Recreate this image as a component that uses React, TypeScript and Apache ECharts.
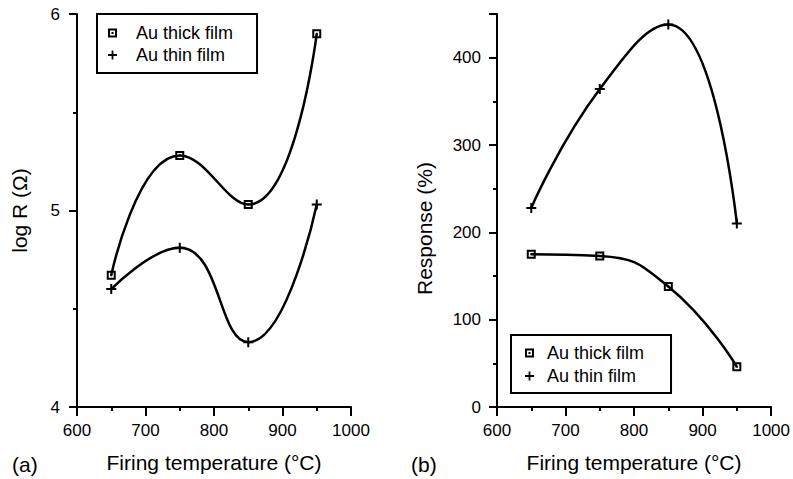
import React, { useEffect, useRef } from "react";
import * as echarts from "echarts";

const temps = [650, 750, 850, 950];
const thickLogR = [4.67, 5.28, 5.03, 5.9];
const thinLogR = [4.6, 4.81, 4.33, 5.03];
const thickResponse = [175, 173, 138, 46];
const thinResponse = [228, 364, 438, 210];
const seriesNames = ["Au thick film", "Au thin film"];
const panelLabels = ["(a)", "(b)"];

const FONT = "'Liberation Sans', Arial, Helvetica, sans-serif";
const squareIcon = "path://M0,0H9V9H0Z M2,2V7H7V2Z M3.5,3.5H5.5V5.5H3.5Z";
const plusIcon = "path://M4,0H6V4H10V6H6V10H4V6H0V4H4Z";

function pairs(xs: number[], ys: number[]) {
  return xs.map((x, i) => [x, ys[i]]);
}

export default function App() {
  const ref = useRef<HTMLDivElement>(null);
  useEffect(() => {
    if (!ref.current) return;
    const chart = echarts.init(ref.current, undefined, { renderer: "svg" });
    const axisLine = () => ({ show: true, onZero: false, lineStyle: { color: "#000", width: 2 } });
    const tick = (length: number) => ({ show: true, inside: false, length, lineStyle: { color: "#000", width: 2 } });
    const minor = () => ({ show: true, splitNumber: 2, length: 4, lineStyle: { color: "#000", width: 2 } });
    const xAxisBase = (gridIndex: number) => ({
      type: "value",
      gridIndex,
      min: 600,
      max: 1000,
      interval: 100,
      name: "Firing temperature (°C)",
      nameLocation: "middle",
      nameGap: 45,
      nameTextStyle: { fontFamily: FONT, fontSize: 21, color: "#000" },
      axisLine: axisLine(),
      axisTick: tick(9),
      minorTick: minor(),
      axisLabel: {
        fontFamily: FONT,
        fontSize: 17,
        color: "#000",
        margin: 15,
        formatter: (v: number) => String(v),
      },
      splitLine: { show: false },
      minorSplitLine: { show: false },
    });
    const lineSeries = (name: string, symbol: string, data: number[][], idx: number) => ({
      type: "line",
      name,
      xAxisIndex: idx,
      yAxisIndex: idx,
      data,
      smooth: 0.5,
      symbol,
      symbolSize: name === seriesNames[0] ? 9 : 10,
      showSymbol: true,
      lineStyle: { color: "#000", width: 2.5 },
      itemStyle: { color: "#000" },
      z: 3,
    });
    const option = {
      animation: false,
      backgroundColor: "#fff",
      textStyle: { fontFamily: FONT },
      grid: [
        { left: 77, right: 442, top: 14, bottom: 72, containLabel: false },
        { left: 497, right: 21, top: 14, bottom: 72, containLabel: false },
      ],
      xAxis: [xAxisBase(0), xAxisBase(1)],
      yAxis: [
        {
          type: "value",
          gridIndex: 0,
          min: 4,
          max: 6,
          interval: 1,
          name: "log R (Ω)",
          nameLocation: "middle",
          nameGap: 47,
          nameTextStyle: { fontFamily: FONT, fontSize: 21, color: "#000" },
          axisLine: axisLine(),
          axisTick: tick(8),
          minorTick: minor(),
          axisLabel: { fontFamily: FONT, fontSize: 17, color: "#000", margin: 17 },
          splitLine: { show: false },
        },
        {
          type: "value",
          gridIndex: 1,
          min: 0,
          max: 450,
          interval: 100,
          name: "Response (%)",
          nameLocation: "middle",
          nameGap: 62,
          nameTextStyle: { fontFamily: FONT, fontSize: 21, color: "#000", padding: [0, 36, 0, 0] },
          axisLine: axisLine(),
          axisTick: tick(8),
          minorTick: minor(),
          axisLabel: {
            fontFamily: FONT,
            fontSize: 17,
            color: "#000",
            margin: 16,
            showMaxLabel: false,
            formatter: (v: number) => (v % 100 === 0 ? String(v) : ""),
          },
          splitLine: { show: false },
        },
      ],
      legend: [
        {
          left: 97,
          top: 14,
          orient: "vertical",
          padding: [10, 24, 9, 11],
          itemGap: 4,
          itemWidth: 9,
          itemHeight: 9,
          borderColor: "#000",
          borderWidth: 2,
          backgroundColor: "#fff",
          textStyle: { fontFamily: FONT, fontSize: 18, color: "#000", padding: [0, 0, 0, 14] },
          data: [
            { name: seriesNames[0], icon: squareIcon },
            { name: seriesNames[1], icon: plusIcon },
          ],
          selectedMode: false,
        },
        {
          left: 511,
          top: 335,
          orient: "vertical",
          padding: [9, 27, 8, 14],
          itemGap: 5,
          itemWidth: 9,
          itemHeight: 9,
          borderColor: "#000",
          borderWidth: 2,
          backgroundColor: "#fff",
          textStyle: { fontFamily: FONT, fontSize: 18, color: "#000", padding: [0, 0, 0, 8] },
          data: [
            { name: seriesNames[0], icon: squareIcon },
            { name: seriesNames[1], icon: plusIcon },
          ],
          selectedMode: false,
        },
      ],
      graphic: [
        {
          type: "text",
          left: 12,
          top: 454,
          style: { text: panelLabels[0], font: `21px ${FONT}`, fill: "#000" },
        },
        {
          type: "text",
          left: 411,
          top: 454,
          style: { text: panelLabels[1], font: `21px ${FONT}`, fill: "#000" },
        },
      ],
      series: [
        lineSeries(seriesNames[0], squareIcon, pairs(temps, thickLogR), 0),
        lineSeries(seriesNames[1], plusIcon, pairs(temps, thinLogR), 0),
        lineSeries(seriesNames[0], squareIcon, pairs(temps, thickResponse), 1),
        lineSeries(seriesNames[1], plusIcon, pairs(temps, thinResponse), 1),
      ],
    };
    chart.setOption(option as any);
    return () => chart.dispose();
  }, []);
  return (
    <div
      ref={ref}
      style={{ position: "fixed", left: 0, top: 0, width: 793, height: 479, background: "#fff" }}
    />
  );
}
